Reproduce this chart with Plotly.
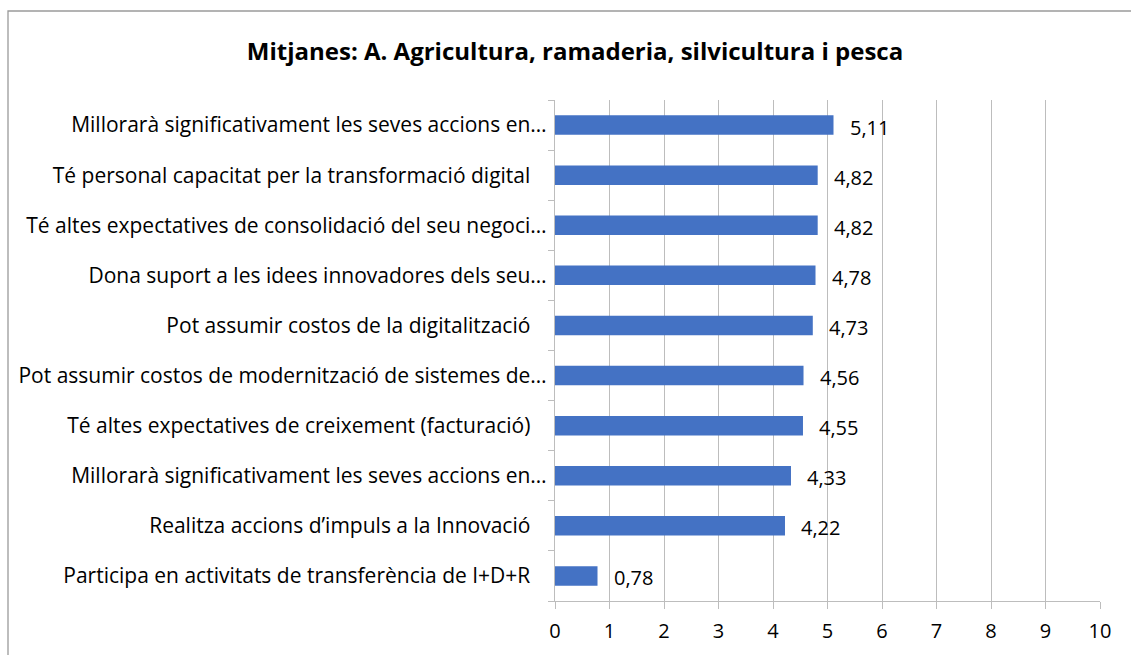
import plotly.graph_objects as go

# Survey averages per statement
categories = [
    "Millorarà significativament les seves accions en…",
    "Té personal capacitat per la transformació digital\u00a0\u00a0\u00a0",
    "Té altes expectatives de consolidació del seu negoci…",
    "Dona suport a les idees innovadores dels seu…",
    "Pot assumir costos de la digitalització\u00a0\u00a0\u00a0",
    "Pot assumir costos de modernització de sistemes de…",
    "Té altes expectatives de creixement (facturació)\u00a0\u00a0\u00a0",
    "Millorarà significativament les seves accions en…",
    "Realitza accions d’impuls a la Innovació\u00a0\u00a0\u00a0",
    "Participa en activitats de transferència de I+D+R\u00a0\u00a0\u00a0",
]
values = [5.11, 4.82, 4.82, 4.78, 4.73, 4.56, 4.55, 4.33, 4.22, 0.78]
x_ticks = list(range(0, 11))

FONT = "Open Sans"
W, H = 1131, 655
ML, MR, MT, MB = 555, 31, 100, 54
plot_w = W - ML - MR
plot_h = H - MT - MB

n = len(categories)
positions = list(range(n))
labels = [f"{v:.2f}".replace(".", ",") for v in values]

fig = go.Figure()
fig.add_trace(go.Bar(
    x=values,
    y=positions,
    orientation="h",
    marker=dict(color="#4472C4", line=dict(width=0)),
    width=0.39,
    hoverinfo="skip",
))

# value labels just past the end of each bar
for p, v, t in zip(positions, values, labels):
    fig.add_annotation(
        x=v, y=p, text=t, showarrow=False,
        xanchor="left", yanchor="middle", xshift=14, yshift=-2,
        font=dict(family=FONT, size=20, color="#000000"),
    )

# outer chart border
def px_to_paper_x(px):
    return (px - ML) / plot_w

def px_to_paper_y(py):
    return (H - MB - py) / plot_h

fig.add_shape(
    type="rect", xref="paper", yref="paper",
    x0=px_to_paper_x(8), x1=px_to_paper_x(1145),
    y0=px_to_paper_y(670), y1=px_to_paper_y(11),
    line=dict(color="#9A9A9A", width=1.3), fillcolor="rgba(0,0,0,0)",
    layer="below",
)

fig.update_layout(
    width=W, height=H,
    margin=dict(l=ML, r=MR, t=MT, b=MB),
    paper_bgcolor="white", plot_bgcolor="white",
    showlegend=False,
    title=dict(
        text="<b>Mitjanes: A. Agricultura, ramaderia, silvicultura i pesca</b>",
        x=px_to_paper_x(575), xref="paper", xanchor="center",
        y=1 - 52 / H, yref="container", yanchor="middle",
        font=dict(family=FONT, size=24, color="#000000"),
    ),
    font=dict(family=FONT, size=21, color="#000000"),
    bargap=0.6,
)

fig.update_xaxes(
    range=[0, 10],
    tickvals=x_ticks,
    ticktext=[str(t) for t in x_ticks],
    showgrid=True, gridcolor="#BDBDBD", gridwidth=1.2,
    showline=True, linecolor="#BDBDBD", linewidth=1.2,
    ticks="outside", ticklen=7, tickcolor="#BDBDBD",
    tickfont=dict(family=FONT, size=20, color="#000000"),
    ticklabelstandoff=5,
    zeroline=False,
    fixedrange=True,
)

fig.update_yaxes(
    range=[n - 0.5, -0.5],
    tickvals=positions,
    ticktext=categories,
    ticks="",
    showgrid=False,
    showline=True, linecolor="#BDBDBD", linewidth=1.2,
    minor=dict(
        tickvals=[i - 0.5 for i in range(n + 1)],
        ticks="outside", ticklen=6, tickcolor="#BDBDBD", showgrid=False,
    ),
    tickfont=dict(family=FONT, size=21, color="#000000"),
    ticklabelstandoff=3,
    zeroline=False,
    fixedrange=True,
)

fig.write_html("out.html")
